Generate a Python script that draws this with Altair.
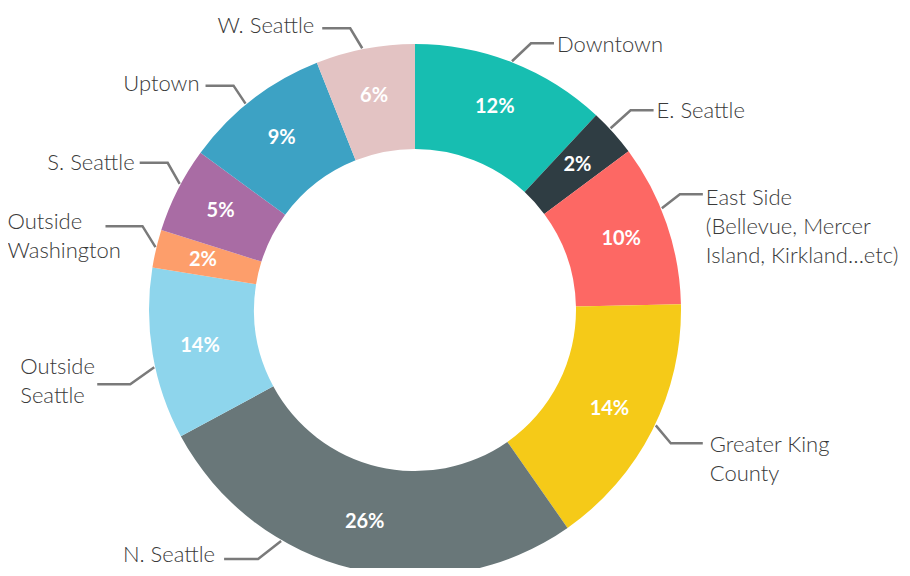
import math
import altair as alt
import pandas as pd

# ---------------- data ----------------
names = ["Downtown", "E. Seattle", "East Side", "Greater King County", "N. Seattle",
         "Outside Seattle", "Outside Washington", "S. Seattle", "Uptown", "W. Seattle"]
label_lines = [["Downtown"], ["E. Seattle"],
               ["East Side", "(Bellevue, Mercer", "Island, Kirkland\u2026etc)"],
               ["Greater King", "County"], ["N. Seattle"], ["Outside", "Seattle"],
               ["Outside", "Washington"], ["S. Seattle"], ["Uptown"], ["W. Seattle"]]
shares = [11.9, 2.9, 9.8, 15.6, 26.8, 10.4, 2.3, 5.2, 8.9, 6.0]
pct_labels = ["12%", "2%", "10%", "14%", "26%", "14%", "2%", "5%", "9%", "6%"]
colors = ["#17BEB1", "#2F3D43", "#FD6864", "#F5CA18", "#697779",
          "#8ED5EC", "#FD9E6B", "#A96CA4", "#3DA2C4", "#E3C3C3"]

# ---------------- layout (styles, not data) ----------------
W, H = 894, 560
CX, CY = 407, 302
R_OUT, R_IN, R_TXT, R_ANCHOR = 266, 161, 218, 267
LINE_H = 29
# leader: anchor angle (deg), elbow dx, dy, horizontal length, text dx, text dy, align
LEADER = {
    "Downtown":            (21.3, 19, -18, 23, 3, 2, "left"),
    "E. Seattle":          (47.1, 20, -18, 23, 3, 1, "left"),
    "East Side":           (67.6, 18, -14, 23, 3, 4, "left"),
    "Greater King County": (115.6, 15, 18, 32, 7, 2, "left"),
    "N. Seattle":          (210.1, -23, 18, 34, -9, -4, "right"),
    "Outside Seattle":     (257.6, -24, 17, 33, -77, -17, "left"),
    "Outside Washington":  (283.6, -13, -21, 37, -98, -4, "left"),
    "S. Seattle":          (298.2, -12, -21, 28, -5, 0, "right"),
    "Uptown":              (320.6, -12, -18, 28, -6, -2, "right"),
    "W. Seattle":          (348.6, -12, -20, 28, -8, -2, "right"),
}

slices = pd.DataFrame({"idx": range(len(names)), "name": names,
                       "share": shares, "pct": pct_labels})

line_rows, text_rows = [], []
for n, lines in zip(names, label_lines):
    a, dx, dy, hl, tdx, tdy, align = LEADER[n]
    side = 1 if a < 180 else -1
    t = math.radians(a)
    ax, ay = CX + R_ANCHOR * math.sin(t), CY - R_ANCHOR * math.cos(t)
    ex, ey = ax + dx, ay + dy
    hx, hy = ex + side * hl, ey
    for s, (px, py) in enumerate([(ax, ay), (ex, ey), (hx, hy)]):
        line_rows.append({"name": n, "seq": s, "x": px, "y": py})
    text_rows.append({"name": n, "lines": lines, "align": align,
                      "x": hx + tdx, "y": hy + tdy})
lines_df = pd.DataFrame(line_rows)
texts_df = pd.DataFrame(text_rows)

xs = alt.Scale(domain=[0, W], nice=False, zero=False)
ys = alt.Scale(domain=[H, 0], nice=False, zero=False)

arcs = alt.Chart(slices).mark_arc(radius=R_OUT, innerRadius=R_IN, stroke=None).encode(
    theta=alt.Theta("share:Q", stack=True),
    order=alt.Order("idx:Q"),
    color=alt.Color("name:N", scale=alt.Scale(domain=names, range=colors), legend=None),
    x=alt.value(CX), y=alt.value(CY),
)

pcts = alt.Chart(slices).mark_text(radius=R_TXT, font="Lato", fontWeight="bold",
                                   fontSize=20, color="white").encode(
    theta=alt.Theta("share:Q", stack=True),
    order=alt.Order("idx:Q"),
    text="pct:N",
    x=alt.value(CX), y=alt.value(CY),
)

leaders = alt.Chart(lines_df).mark_line(color="#7A7A7A", strokeWidth=2.5).encode(
    x=alt.X("x:Q", scale=xs, axis=None),
    y=alt.Y("y:Q", scale=ys, axis=None),
    detail="name:N",
    order="seq:Q",
)

def label_layer(align):
    return alt.Chart(texts_df[texts_df["align"] == align]).mark_text(
        font="Lato", fontWeight=300, fontSize=22, color="#3A3A3A",
        align=align, baseline="middle", lineHeight=LINE_H,
    ).encode(
        x=alt.X("x:Q", scale=xs, axis=None),
        y=alt.Y("y:Q", scale=ys, axis=None),
        text="lines",
    )

chart = alt.layer(arcs, pcts, leaders, label_layer("left"), label_layer("right")).properties(
    width=W, height=H, padding=0, autosize=alt.AutoSizeParams(type="none"),
).configure_view(stroke=None)

chart.save("out.html", embed_options={"renderer": "svg", "actions": False})
